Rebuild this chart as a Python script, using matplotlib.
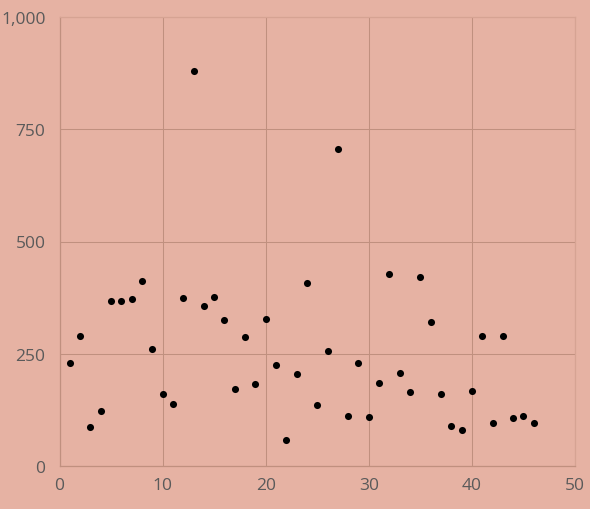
# scatter plot on salmon background

import matplotlib
matplotlib.use('Agg')
import matplotlib.pyplot as plt
from matplotlib.ticker import FuncFormatter

x_vals = list(range(1, 47))
y_vals = [229, 289, 87, 123, 368, 368, 373, 412, 261, 161,
          138, 374, 880, 357, 376, 326, 171, 287, 183, 327,
          224, 57, 204, 407, 136, 257, 706, 112, 230, 109,
          184, 427, 208, 164, 422, 320, 160, 88, 80, 167,
          289, 96, 290, 106, 112, 96]

x_ticks = [0, 10, 20, 30, 40, 50]
y_ticks = [0, 250, 500, 750, 1000]

bg = '#E6B2A3'
grid_col = '#C0907F'

plt.rcParams['font.family'] = ['Open Sans', 'DejaVu Sans']

fig = plt.figure(figsize=(5.9, 5.1), dpi=100, facecolor=bg)
ax = fig.add_axes([59.5 / 590, 43 / 510, 515.5 / 590, 449 / 510])
ax.set_facecolor(bg)

ax.scatter(x_vals, y_vals, s=26, color='black', zorder=3, linewidths=0)

ax.set_xlim(0, 50)
ax.set_ylim(0, 1000)
ax.set_xticks(x_ticks)
ax.set_yticks(y_ticks)
ax.yaxis.set_major_formatter(FuncFormatter(lambda v, p: f'{int(v):,}'))

ax.grid(True, color=grid_col, linewidth=0.75, zorder=0)
ax.set_axisbelow(True)
for side in ['top', 'right']:
    ax.spines[side].set_color('#D6A393')
    ax.spines[side].set_linewidth(0.9)
for side in ['left', 'bottom']:
    ax.spines[side].set_color(grid_col)
    ax.spines[side].set_linewidth(0.9)

ax.tick_params(length=0, labelsize=12.5, colors='#5a5a5a')
ax.tick_params(axis='y', pad=10)
ax.tick_params(axis='x', pad=8)

fig.savefig('out.png', dpi=100, facecolor=bg)
